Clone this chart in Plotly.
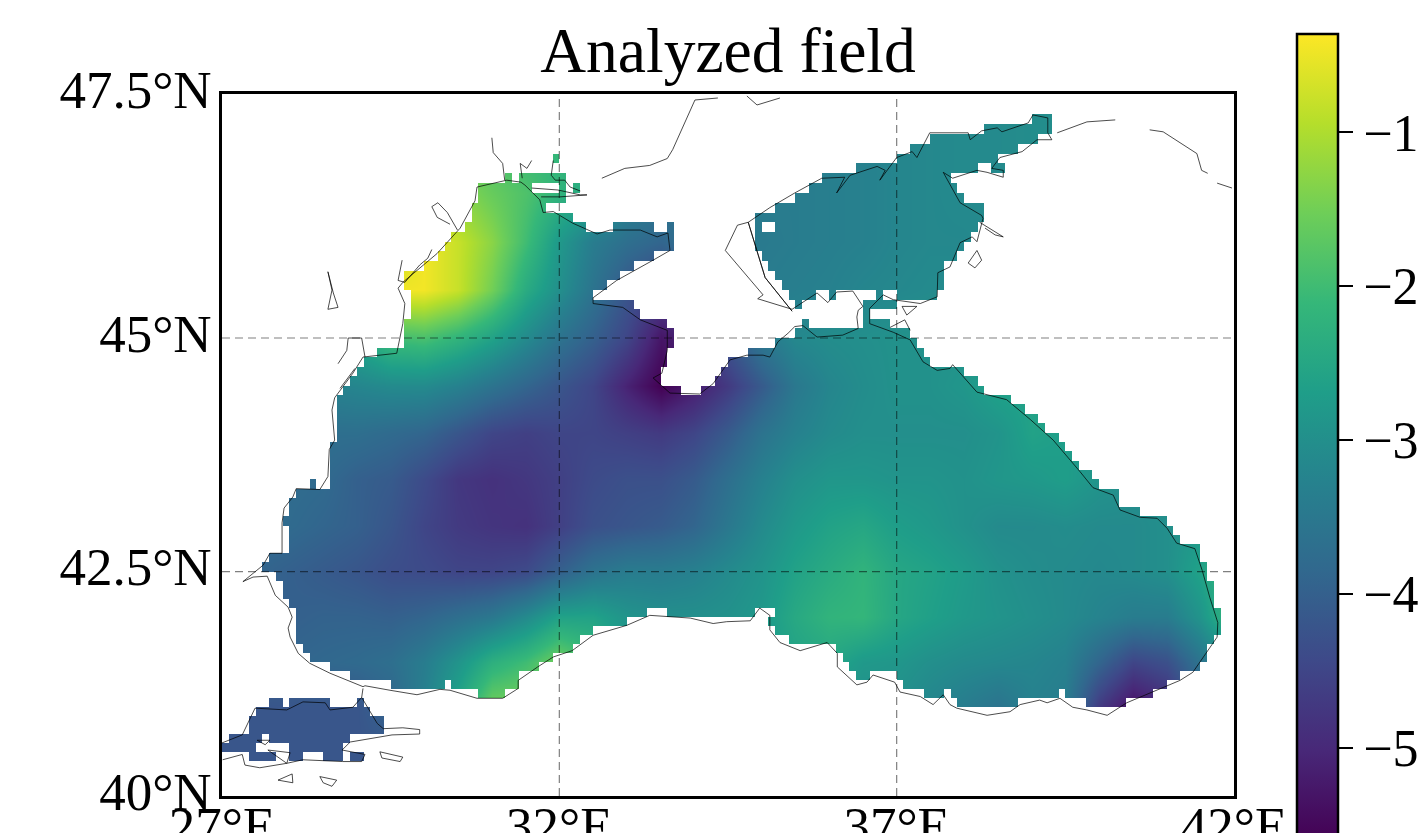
import math
import plotly.graph_objects as go

TITLE = "Analyzed field"
FONT = "Liberation Serif"
LON_TICKS = [27, 32, 37, 42]
LON_TEXT = ["27°E", "32°E", "37°E", "42°E"]
LAT_TICKS = [40, 42.5, 45, 47.5]
LAT_TEXT = ["40°N", "42.5°N", "45°N", "47.5°N"]
CBAR_TICKS = [-5, -4, -3, -2, -1]
CBAR_TEXT = ["−5", "−4", "−3", "−2", "−1"]
Z_MIN, Z_MAX = -5.6, -0.36

FIELD_LON = [27 + 0.5 * k for k in range(31)]
FIELD_LAT = [47.5 - 0.5 * k for k in range(16)]
F475 = [-3.9,-3.9,-3.9,-3.9,-3.5,-2.5,-1.5,-1.5,-2.0,-2.1,-2.1,-2.2,-3.0,-3.4,-3.4,-3.4,-3.4,-3.4,-3.3,-3.3,-3.2,-3.15,-3.1,-3.1,-3.05,-3.05,-3.0,-3.0,-3.0,-3.0,-3.0]
F470 = [-3.9,-3.9,-3.9,-3.9,-3.4,-2.4,-1.4,-1.5,-1.9,-2.1,-2.1,-2.3,-3.0,-3.4,-3.4,-3.4,-3.4,-3.4,-3.35,-3.3,-3.2,-3.15,-3.1,-3.1,-3.05,-3.05,-3.0,-3.0,-3.0,-3.0,-3.0]
F465 = [-3.9,-3.9,-3.9,-3.8,-3.0,-1.5,-1.0,-1.3,-1.6,-1.85,-2.2,-2.5,-3.2,-3.5,-3.5,-3.45,-3.4,-3.4,-3.35,-3.3,-3.2,-3.15,-3.1,-3.1,-3.05,-3.05,-3.0,-3.0,-3.0,-3.0,-3.0]
F460 = [-3.9,-3.9,-3.8,-3.0,-2.0,-1.0,-0.45,-0.8,-1.3,-2.0,-2.8,-3.4,-3.7,-3.9,-3.6,-3.45,-3.45,-3.4,-3.35,-3.3,-3.2,-3.15,-3.15,-3.1,-3.05,-3.05,-3.0,-3.0,-3.0,-3.0,-3.0]
F455 = [-3.8,-3.6,-3.2,-2.5,-1.5,-0.45,-0.45,-0.8,-1.5,-2.4,-3.0,-3.6,-4.2,-4.6,-4.4,-3.5,-3.4,-3.35,-3.3,-3.2,-3.15,-3.1,-3.1,-3.05,-3.0,-3.0,-3.0,-3.0,-3.0,-3.0,-3.0]
F450 = [-3.8,-3.5,-3.3,-3.0,-2.5,-2.0,-1.9,-2.2,-2.6,-3.1,-3.6,-4.0,-4.5,-5.3,-5.0,-4.2,-3.5,-3.15,-3.05,-3.0,-2.95,-2.95,-2.95,-2.9,-2.9,-2.9,-2.9,-2.9,-2.9,-2.9,-2.9]
F445 = [-3.8,-3.6,-3.4,-3.3,-3.2,-3.1,-3.1,-3.3,-3.6,-3.9,-4.2,-4.5,-5.1,-5.6,-5.2,-4.7,-4.1,-3.5,-3.2,-3.05,-2.95,-2.95,-2.85,-2.6,-2.6,-2.6,-2.7,-2.8,-2.9,-2.9,-2.9]
F440 = [-3.8,-3.7,-3.7,-3.7,-3.7,-3.8,-3.9,-4.2,-4.5,-4.6,-4.5,-4.5,-4.6,-4.7,-4.5,-4.1,-3.6,-3.3,-3.1,-3.0,-3.0,-3.0,-3.0,-2.9,-2.6,-2.7,-2.8,-2.9,-2.9,-2.9,-2.9]
F435 = [-3.7,-3.7,-3.75,-3.8,-4.0,-4.1,-4.4,-4.75,-4.85,-4.75,-4.6,-4.4,-4.3,-4.3,-4.1,-3.7,-3.3,-3.0,-2.85,-2.85,-2.9,-2.9,-2.95,-2.85,-2.8,-2.7,-2.9,-3.0,-3.0,-3.0,-3.0]
F430 = [-3.7,-3.75,-3.8,-3.9,-4.0,-4.2,-4.5,-4.7,-4.8,-4.85,-4.6,-4.3,-4.2,-4.1,-3.9,-3.5,-3.1,-2.8,-2.6,-2.5,-2.7,-2.8,-2.95,-3.1,-3.1,-3.05,-3.1,-3.1,-3.0,-2.8,-2.7]
F425 = [-3.8,-3.9,-4.0,-4.1,-4.2,-4.35,-4.4,-4.5,-4.5,-4.4,-4.0,-3.6,-3.4,-3.4,-3.3,-3.1,-2.9,-2.6,-2.4,-2.2,-2.5,-2.6,-2.75,-2.95,-3.05,-3.1,-3.15,-3.1,-3.0,-2.6,-2.0]
F420 = [-3.9,-4.0,-4.0,-3.95,-3.95,-4.0,-3.9,-3.7,-3.5,-3.1,-2.6,-2.6,-2.9,-3.0,-3.0,-2.95,-2.8,-2.45,-2.2,-2.15,-2.5,-2.65,-2.8,-2.9,-3.0,-3.1,-3.25,-3.4,-3.4,-2.9,-2.0]
F415 = [-3.9,-3.9,-3.9,-3.85,-3.8,-3.7,-3.4,-2.9,-2.3,-2.0,-1.5,-2.0,-2.8,-3.0,-3.0,-3.0,-2.8,-2.6,-2.5,-2.8,-2.85,-3.0,-3.1,-3.15,-3.2,-3.3,-3.9,-4.5,-4.3,-3.6,-3.0]
F410 = [-4.2,-4.2,-4.2,-4.2,-4.2,-3.9,-3.3,-2.5,-1.5,-1.4,-1.5,-2.0,-2.8,-3.0,-3.0,-3.0,-3.0,-3.0,-3.0,-3.0,-3.0,-3.2,-3.4,-3.6,-3.3,-3.4,-4.7,-5.4,-5.0,-4.0,-3.5]
F405 = [-4.2,-4.2,-4.2,-4.2,-4.2,-4.2,-4.0,-3.5,-3.0,-3.0,-3.0,-3.0,-3.0,-3.0,-3.0,-3.0,-3.0,-3.0,-3.0,-3.0,-3.0,-3.2,-3.4,-3.6,-3.5,-3.5,-4.5,-5.0,-4.8,-4.0,-3.5]
F400 = [-4.2,-4.2,-4.2,-4.2,-4.2,-4.2,-4.0,-3.5,-3.0,-3.0,-3.0,-3.0,-3.0,-3.0,-3.0,-3.0,-3.0,-3.0,-3.0,-3.0,-3.0,-3.2,-3.4,-3.6,-3.5,-3.5,-4.5,-5.0,-4.8,-4.0,-3.5]
FIELD = [F475, F470, F465, F460, F455, F450, F445, F440, F435, F430, F425, F420, F415, F410, F405, F400]

# Sea cells of the 0.1 degree model grid: (northern edge of the row, [(first, last) column from 27E])
SEA_ROWS = [
    (47.3, [(120,122)]), (47.2, [(113,122)]), (47.1, [(105,120)]), (47.0, [(102,117)]),
    (46.9, [(49,49),(100,114)]), (46.8, [(94,111),(114,115)]),
    (46.7, [(42,42),(44,50),(89,107)]), (46.6, [(38,45),(50,50),(52,52),(87,108)]),
    (46.5, [(38,50),(85,109)]), (46.4, [(37,47),(82,112)]), (46.3, [(37,51),(79,112)]),
    (46.2, [(36,53),(58,63),(66,66),(79,79),(82,111)]), (46.1, [(34,66),(79,110)]),
    (46.0, [(33,66),(79,109)]), (45.9, [(32,63),(80,108)]), (45.8, [(30,60),(81,106)]),
    (45.7, [(27,58),(82,106)]), (45.6, [(27,56),(83,106)]),
    (45.5, [(28,54),(84,87),(90,90),(97,97),(100,105)]), (45.4, [(28,60),(85,85),(95,99)]),
    (45.3, [(28,61),(95,95)]), (45.2, [(27,65),(86,86),(95,98)]), (45.1, [(27,66),(85,101)]),
    (45.0, [(27,66),(82,102)]), (44.9, [(23,65),(78,103)]), (44.8, [(21,65),(75,104)]),
    (44.7, [(20,64),(74,109)]), (44.6, [(19,64),(73,111)]), (44.5, [(18,67),(71,112)]),
    (44.4, [(17,116)]), (44.3, [(17,118)]), (44.2, [(17,120)]), (44.1, [(17,121)]),
    (44.0, [(17,123)]), (43.9, [(16,124)]), (43.8, [(16,125)]), (43.7, [(16,126)]),
    (43.6, [(16,128)]), (43.5, [(13,13),(16,129)]), (43.4, [(11,132)]), (43.3, [(10,132)]),
    (43.2, [(10,135)]), (43.1, [(9,139)]), (43.0, [(10,140)]), (42.9, [(10,141)]),
    (42.8, [(10,144)]), (42.7, [(7,144)]), (42.6, [(6,145)]), (42.5, [(8,145)]),
    (42.4, [(9,146)]), (42.3, [(9,146)]), (42.2, [(10,146)]),
    (42.1, [(11,62),(66,78),(82,147)]), (42.0, [(11,59),(81,147)]), (41.9, [(11,54),(82,147)]),
    (41.8, [(11,52),(84,146)]), (41.7, [(12,51),(91,145)]), (41.6, [(13,48),(92,145)]),
    (41.5, [(16,46),(93,144)]), (41.4, [(19,43),(94,95),(100,141)]),
    (41.3, [(25,32),(34,43),(101,139)]), (41.2, [(38,41),(104,106),(108,123),(125,137)]),
    (41.1, [(7,8),(10,15),(20,20),(109,117),(128,133)]), (41.0, [(5,21)]), (40.9, [(4,23)]),
    (40.8, [(4,23)]), (40.7, [(1,5),(7,18)]), (40.6, [(0,4),(10,17)]),
    (40.5, [(4,7),(10,11),(15,17),(19,20)]),
]

COAST_MAIN = [(29.09,41.23),(28.87,41.30),(28.60,41.38),(28.30,41.49),(28.13,41.60),(28.01,41.78),(27.98,41.88),(28.04,42.0),(27.98,42.11),(27.79,42.24),(27.71,42.38),(27.67,42.45),(27.46,42.44),(27.31,42.39),(27.46,42.48),(27.61,42.57),(27.71,42.70),(27.89,42.70),(27.89,43.03),(27.92,43.19),(28.05,43.31),(28.10,43.40),(28.45,43.39),(28.57,43.53),(28.59,43.82),(28.67,43.92),(28.63,44.24),(28.67,44.37),(28.94,44.63),(29.09,44.80),(29.59,44.84),(29.68,45.15),(29.71,45.36),(29.61,45.52),(29.68,45.58),(30.19,45.88),(30.53,46.14),(30.75,46.42),(30.78,46.56),(31.22,46.63),(31.43,46.61),(31.49,46.58),(31.71,46.43),(31.76,46.30),(31.91,46.31),(32.20,46.19),(32.56,46.08),(32.75,46.12),(33.20,46.12),(33.45,46.05),(33.61,46.09),(33.64,45.91),(33.39,45.81),(32.85,45.60),(32.50,45.42),(32.50,45.36),(32.94,45.32),(33.20,45.19),(33.60,45.08),(33.60,44.87),(33.52,44.63),(33.39,44.58),(33.64,44.42),(34.08,44.41),(34.28,44.52),(34.53,44.77),(34.78,44.82),(35.02,44.82),(35.12,44.80),(35.24,44.96),(35.39,45.05),(35.49,45.12),(35.61,45.13),(35.82,45.01),(36.20,45.03),(36.43,45.10),(36.41,45.22),(36.43,45.29),(36.50,45.33),(36.35,45.49),(36.11,45.48),(35.98,45.37),(35.82,45.47),(35.45,45.30),(34.94,45.41),(35.02,45.45),(34.46,45.91),(34.64,46.17),(34.80,46.20),(35.05,45.63),(35.45,45.28),(35.05,45.63),(34.80,46.20),(35.12,46.35),(35.49,46.50),(35.89,46.65),(36.23,46.66),(36.11,46.50),(36.31,46.68),(36.71,46.77),(36.83,46.73),(36.75,46.63),(37.00,46.86),(37.23,46.92),(37.30,46.86),(37.49,47.11),(38.06,47.11),(38.09,47.04),(38.26,47.13),(38.49,47.16),(38.56,47.12),(38.95,47.21),(39.02,47.29),(39.24,47.26),(39.24,47.11),(39.30,47.04),(39.08,47.04),(38.86,46.92),(38.53,46.86),(38.41,46.75),(38.58,46.73),(38.58,46.66),(38.34,46.71),(38.19,46.73),(37.83,46.65),(37.69,46.71),(37.94,46.40),(38.26,46.27),(38.28,46.24),(38.19,46.0),(38.12,46.05),(37.94,45.99),(37.79,45.74),(37.61,45.68),(37.60,45.43),(37.35,45.36),(36.95,45.40),(36.80,45.45),(36.60,45.31),(36.60,45.22),(36.60,45.15),(36.95,45.06),(37.20,44.98),(37.39,44.75),(37.60,44.66),(37.79,44.68),(37.83,44.72),(38.19,44.43),(38.63,44.35),(38.98,44.14),(39.32,43.92),(39.72,43.58),(39.91,43.41),(40.21,43.33),(40.31,43.17),(40.61,43.09),(40.86,43.08),(41.01,42.97),(41.15,42.81),(41.42,42.75),(41.53,42.51),(41.64,42.22),(41.76,41.94),(41.75,41.78),(41.54,41.56),(41.39,41.39),(41.20,41.30),(40.86,41.19),(40.41,41.05),(40.12,40.91),(39.82,40.97),(39.61,41.00),(39.42,41.10),(39.23,41.05),(39.12,41.08),(38.83,41.03),(38.68,40.95),(38.34,40.91),(37.89,40.99),(37.79,41.03),(37.69,41.14),(37.54,41.03),(37.35,41.12),(37.05,41.17),(36.97,41.28),(36.65,41.36),(36.56,41.28),(36.41,41.25),(36.12,41.45),(36.12,41.60),(35.97,41.72),(35.57,41.63),(35.27,41.72),(35.12,41.86),(35.12,42.02),(34.97,42.10),(34.83,41.96),(34.48,41.95),(34.28,41.93),(33.94,41.99),(33.34,42.02),(33.00,41.91),(32.50,41.80),(32.19,41.63),(31.91,41.56),(31.68,41.45),(31.39,41.30),(31.39,41.21),(31.16,41.10),(30.78,41.10),(30.38,41.19),(30.23,41.20),(29.89,41.14),(29.49,41.19),(29.12,41.24),(29.09,41.23)]
COAST_TOP1 = [(32.63,46.65),(32.97,46.75),(33.34,46.78),(33.60,46.85),(33.68,46.94),(33.94,47.34),(34.01,47.44),(34.35,47.46)]
COAST_TOP2 = [(34.78,47.48),(34.93,47.39),(35.27,47.46)]
COAST_TOP3 = [(39.38,47.11),(39.82,47.22),(40.24,47.24)]
COAST_TOP4 = [(40.75,47.14),(40.95,47.12),(41.45,46.90),(41.52,46.73),(41.61,46.70)]
COAST_TOP5 = [(41.75,46.60),(41.97,46.55)]
RIVER_A = [(31.00,47.06),(31.02,46.91),(31.16,46.80),(31.19,46.63)]
RIVER_B = [(31.45,46.65),(31.42,46.80),(31.52,46.75),(31.59,46.83)]
RIVER_C = [(31.59,46.55),(31.98,46.53),(32.31,46.48),(32.41,46.48),(32.01,46.46),(31.73,46.46)]
RIVER_D = [(31.91,46.83),(31.88,46.68),(31.94,46.63),(32.08,46.63),(32.16,46.56),(32.31,46.52)]
LAKE_A = [(30.49,46.12),(30.34,46.30),(30.20,46.40),(30.11,46.36),(30.19,46.25),(30.38,46.18)]
LAKE_B = [(28.57,45.69),(28.65,45.47),(28.72,45.32),(28.57,45.30),(28.63,45.50),(28.57,45.69)]
LIMAN = [(29.67,45.81),(29.61,45.60),(29.71,45.58),(29.93,45.76),(30.05,45.83),(30.11,45.92)]
DANUBE_A = [(28.72,44.73),(28.85,44.87),(28.87,45.0),(29.07,45.0),(29.12,44.80)]
DANUBE_B = [(28.75,44.47),(28.97,44.68)]
MARMARA_N = [(27.0,40.60),(27.30,40.69),(27.49,40.99),(27.96,40.97),(28.20,41.06),(28.53,41.05),(28.60,40.97),(28.94,41.0),(29.07,41.11),(29.09,41.21)]
MARMARA_S = [(29.07,41.11),(29.30,40.82),(29.39,40.76),(29.68,40.77),(29.93,40.75),(29.93,40.70),(29.52,40.69),(28.90,40.61),(28.78,40.52),(29.12,40.47),(29.07,40.39),(28.79,40.39),(28.20,40.41),(27.96,40.37),(27.68,40.52),(28.01,40.49),(27.96,40.37),(27.56,40.32),(27.34,40.35),(27.30,40.47),(27.01,40.41)]
ISLE_A = [(29.34,40.50),(29.68,40.44),(29.64,40.39),(29.37,40.43),(29.34,40.50)]
ISLE_B = [(27.83,40.18),(28.04,40.25),(28.05,40.15),(27.83,40.18)]
ISLE_C = [(28.45,40.22),(28.70,40.18),(28.63,40.11),(28.50,40.15),(28.45,40.22)]
ISLE_D = [(27.52,40.63),(27.71,40.63),(27.64,40.58),(27.52,40.63)]
TAMAN_A = [(37.08,45.33),(37.30,45.33),(37.15,45.24),(37.08,45.33)]
TAMAN_B = [(36.90,45.11),(37.12,45.19),(37.20,45.08)]
YEYSK = [(38.23,46.20),(38.58,46.05),(38.46,46.07),(38.31,46.14)]
ISLE_E = [(38.06,45.78),(38.19,45.91),(38.26,45.81),(38.16,45.73),(38.06,45.78)]
COASTS = [COAST_MAIN, COAST_TOP1, COAST_TOP2, COAST_TOP3, COAST_TOP4, COAST_TOP5, RIVER_A, RIVER_B,
          RIVER_C, RIVER_D, LAKE_A, LAKE_B, LIMAN, DANUBE_A, DANUBE_B, MARMARA_N, MARMARA_S, ISLE_A,
          ISLE_B, ISLE_C, ISLE_D, TAMAN_A, TAMAN_B, YEYSK, ISLE_E]


def merc(lat):
    return math.log(math.tan(math.pi / 4 + math.radians(lat) / 2))


N_COL, N_ROW = 150, 75
land = [[1.0] * N_COL for _ in range(N_ROW)]
for north, spans in SEA_ROWS:
    row = round((north - 40) * 10) - 1
    for a, b in spans:
        for c in range(a, b + 1):
            land[row][c] = None
edge_lon = [27 + 0.1 * k for k in range(N_COL + 1)]
edge_y = [merc(40 + 0.1 * k) for k in range(N_ROW + 1)]

fig = go.Figure()
fig.add_trace(go.Heatmap(
    x=FIELD_LON, y=[merc(v) for v in FIELD_LAT], z=FIELD, zsmooth="best",
    colorscale="Viridis", zmin=Z_MIN, zmax=Z_MAX, hoverinfo="skip",
    colorbar=dict(
        x=(1297 - 222) / 1012, xanchor="left", xpad=0, ypad=0,
        y=(796 - 34) / 702, yanchor="top", lenmode="pixels", len=806,
        thicknessmode="pixels", thickness=41,
        tickmode="array", tickvals=CBAR_TICKS, ticktext=CBAR_TEXT,
        ticks="outside", ticklen=14, tickwidth=1.5, tickcolor="black",
        outlinecolor="black", outlinewidth=2.5,
        tickfont=dict(family=FONT, size=52, color="black"),
    ),
))
fig.add_trace(go.Heatmap(
    x=edge_lon, y=edge_y, z=land, zmin=0, zmax=1, showscale=False,
    colorscale=[[0, "white"], [1, "white"]], hoverinfo="skip",
))

grid_x, grid_y = [], []
for lon in LON_TICKS[1:3]:
    grid_x += [lon, lon, None]
    grid_y += [merc(LAT_TICKS[0]), merc(LAT_TICKS[-1]), None]
for lat in LAT_TICKS[1:3]:
    grid_x += [LON_TICKS[0], LON_TICKS[-1], None]
    grid_y += [merc(lat), merc(lat), None]
fig.add_trace(go.Scatter(
    x=grid_x, y=grid_y, mode="lines", hoverinfo="skip", showlegend=False,
    line=dict(color="rgba(0,0,0,0.5)", width=1.2, dash="8px,5px"),
))

coast_x, coast_y = [], []
for seg in COASTS:
    coast_x += [p[0] for p in seg] + [None]
    coast_y += [merc(p[1]) for p in seg] + [None]
fig.add_trace(go.Scatter(
    x=coast_x, y=coast_y, mode="lines", hoverinfo="skip", showlegend=False,
    line=dict(color="rgba(0,0,0,0.7)", width=1),
))

axis_font = dict(family=FONT, size=53, color="black")
fig.update_layout(
    width=1420, height=833, paper_bgcolor="white", plot_bgcolor="white", showlegend=False,
    margin=dict(l=222, r=186, t=94, b=37, autoexpand=False),
    title=dict(text=TITLE, x=728 / 1420, xanchor="center", y=1 - 50 / 833, yanchor="middle",
               font=dict(family=FONT, size=63.5, color="black")),
    xaxis=dict(range=[LON_TICKS[0], LON_TICKS[-1]], tickmode="array", tickvals=LON_TICKS, ticktext=LON_TEXT,
               showgrid=False, zeroline=False, showline=True, mirror=True, linecolor="black", linewidth=2.5,
               ticks="", tickfont=axis_font, ticklabelstandoff=-18),
    yaxis=dict(range=[merc(LAT_TICKS[0]), merc(LAT_TICKS[-1])], tickmode="array",
               tickvals=[merc(v) for v in LAT_TICKS], ticktext=LAT_TEXT,
               showgrid=False, zeroline=False, showline=True, mirror=True, linecolor="black", linewidth=2.5,
               ticks="", tickfont=axis_font, ticklabelstandoff=-3, ticklabelshift=-5),
)
# Without the page's default margin the figure fits the window exactly, with no scrollbars.
fig.write_html("out.html", config={"displayModeBar": False},
               post_script="document.body.style.margin='0';document.documentElement.style.overflow='hidden';document.body.style.overflow='hidden';")
